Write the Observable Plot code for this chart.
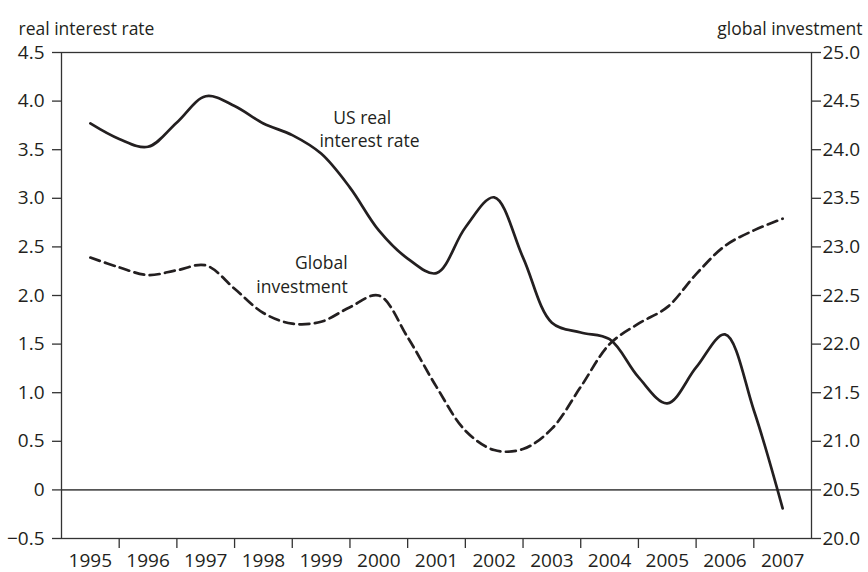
<!DOCTYPE html>
<html>
<head>
<meta charset="utf-8">
<script src="https://cdn.jsdelivr.net/npm/d3@7"></script>
<script src="https://cdn.jsdelivr.net/npm/@observablehq/plot@0.6"></script>
<style>
  html, body { margin: 0; padding: 0; background: #fff; }
</style>
</head>
<body>
<div id="chart"></div>
<script>
// ---- data ----
const years = [1995, 1996, 1997, 1998, 1999, 2000, 2001, 2002, 2003, 2004, 2005, 2006, 2007];
const periods = [1995, 1995.5, 1996, 1996.5, 1997, 1997.5, 1998, 1998.5, 1999, 1999.5, 2000, 2000.5,
                 2001, 2001.5, 2002, 2002.5, 2003, 2003.5, 2004, 2004.5, 2005, 2005.5, 2006, 2006.5, 2007];
const usRealRate = [3.77, 3.61, 3.53, 3.78, 4.05, 3.95, 3.77, 3.65, 3.46, 3.11, 2.67, 2.38,
                    2.23, 2.70, 3.01, 2.39, 1.72, 1.62, 1.55, 1.16, 0.89, 1.26, 1.60, 0.82, -0.19];
const globalInvestment = [22.89, 22.79, 22.71, 22.76, 22.81, 22.57, 22.32, 22.21, 22.23, 22.38, 22.50, 22.07,
                          21.56, 21.11, 20.91, 20.92, 21.13, 21.56, 22.00, 22.21, 22.38, 22.72, 23.01, 23.17, 23.29];
const leftTicks = [-0.5, 0, 0.5, 1.0, 1.5, 2.0, 2.5, 3.0, 3.5, 4.0, 4.5];
const rightTicks = [20.0, 20.5, 21.0, 21.5, 22.0, 22.5, 23.0, 23.5, 24.0, 24.5, 25.0];
const leftTitle = "real interest rate";
const rightTitle = "global investment";
const rateLabel = ["US real", "interest rate"];
const invLabel = ["Global", "investment"];

// right axis maps linearly onto left axis
const offset = rightTicks[0] - leftTicks[0];
const rateData = periods.map((t, i) => ({t, v: usRealRate[i]}));
const invData = periods.map((t, i) => ({t, v: globalInvestment[i] - offset}));
const boundaries = years.slice(0, -1).map(y => y + 0.5);

const fmtLeft = d => d === 0 ? "0" : d3.format(".1f")(d);
const ink = "#231f20";

const chart = Plot.plot({
  width: 868,
  height: 572,
  marginLeft: 61,
  marginRight: 57,
  marginTop: 52,
  marginBottom: 34,
  style: {fontFamily: "'Open Sans', sans-serif", fontSize: "17px", color: ink, background: "#fff", overflow: "visible"},
  x: {domain: [years[0] - 0.5, years[years.length - 1] + 0.5]},
  y: {domain: [leftTicks[0], leftTicks[leftTicks.length - 1]]},
  marks: [
    Plot.ruleY([0], {stroke: "#555", strokeWidth: 1.6}),
    Plot.line(invData, {x: "t", y: "v", curve: "catmull-rom", stroke: ink, strokeWidth: 2.7, strokeDasharray: "10,5.5"}),
    Plot.line(rateData, {x: "t", y: "v", curve: "catmull-rom", stroke: ink, strokeWidth: 2.7}),
    Plot.frame({stroke: "#333", strokeWidth: 1.3}),
    Plot.axisY(leftTicks, {anchor: "left", tickSize: 9, tickPadding: 8, tickFormat: fmtLeft, label: null, stroke: "#333", strokeWidth: 1.3, fontSize: 19}),
    Plot.axisY(leftTicks, {anchor: "right", tickSize: 9, tickPadding: 2, tickFormat: d => (d + offset).toFixed(1), label: null, stroke: "#333", strokeWidth: 1.3, fontSize: 19}),
    Plot.axisX(years, {anchor: "bottom", tickSize: 0, tickPadding: 15, tickFormat: d => String(d), label: null, fontSize: 19}),
    Plot.axisX(boundaries, {anchor: "bottom", tickSize: 10, tickFormat: () => "", label: null, stroke: "#333", strokeWidth: 1.3}),
    Plot.text([leftTitle], {frameAnchor: "top-left", dx: -43, dy: -30, textAnchor: "start", fill: ink, fontSize: 17.5}),
    Plot.text([rightTitle], {frameAnchor: "top-right", dx: 51, dy: -30, textAnchor: "end", fill: ink, fontSize: 17.5}),
    Plot.text([rateLabel[0]], {x: 1999.21, y: 3.82, textAnchor: "start", fill: ink, fontSize: 17.5}),
    Plot.text([rateLabel[1]], {x: 1998.97, y: 3.59, textAnchor: "start", fill: ink, fontSize: 17.5}),
    Plot.text([invLabel[0]], {x: 1999.46, y: 2.33, textAnchor: "end", fill: ink, fontSize: 17.5}),
    Plot.text([invLabel[1]], {x: 1999.46, y: 2.08, textAnchor: "end", fill: ink, fontSize: 17.5})
  ]
});
document.getElementById("chart").appendChild(chart);
</script>
</body>
</html>
